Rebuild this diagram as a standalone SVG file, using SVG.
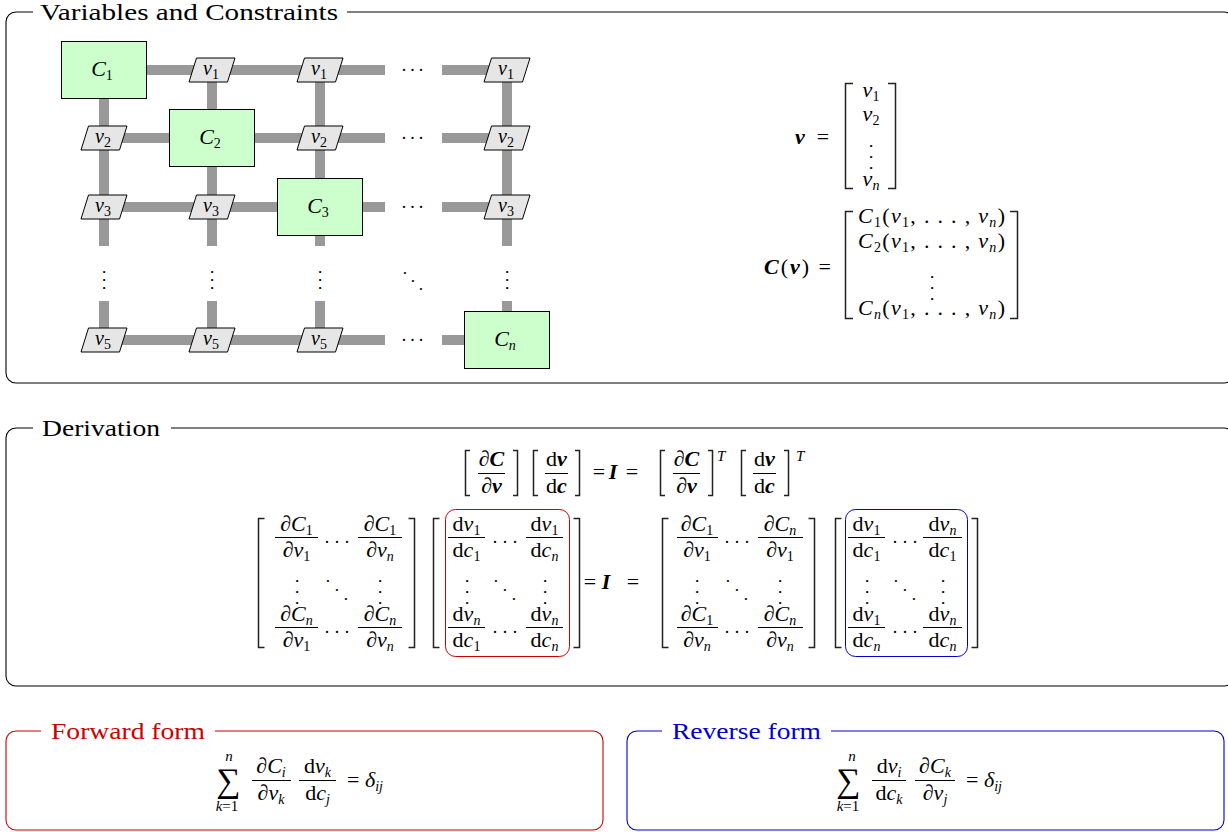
<svg xmlns="http://www.w3.org/2000/svg" width="1228" height="832" viewBox="0 0 1228 832" font-family="'Liberation Serif', 'DejaVu Serif', serif">
<style>
text { fill: #000; }
.t { font-size: 24px; }
.m { font-size: 22px; font-style: italic; }
.g { font-size: 20px; font-style: italic; }
.up { font-style: normal; }
.bf { font-weight: bold; font-style: italic; }
.sub { font-size: 14px; }
.sup { font-size: 15px; font-style: italic; }
.lim { font-size: 15px; font-style: italic; text-anchor: middle; }
.d { font-size: 18px; font-style: normal; }
.p8 { letter-spacing: 4px; }
.p8v { letter-spacing: 3.5px; }
.p10 { letter-spacing: 5.5px; }
.p11 { letter-spacing: 6.5px; }
.p11d { letter-spacing: 6.8px; }
.p13d { letter-spacing: 8.2px; }
.mid { text-anchor: middle; }
.sum { font-size: 34px; font-style: normal; text-anchor: middle; }
.frame { fill: none; stroke: #000; stroke-width: 1.1; }
.bar { stroke: #999; stroke-width: 10; fill: none; }
.cbox { fill: #ccffcc; stroke: #000; stroke-width: 1; }
.vbox { fill: #e6e6e6; stroke: #000; stroke-width: 1; }
.br { fill: none; stroke: #222; stroke-width: 1.5; }
.fb { fill: none; stroke: #000; stroke-width: 1; }
.red { stroke: #cc0000; }
.blue { stroke: #0000cc; }
.redt { fill: #cc0000; }
.bluet { fill: #0000cc; }
</style>
<defs>
<path id="pg" class="vbox" d="M-15.5 -12 H23 L15.5 12 H-23 Z"/>
</defs>

<!-- Frames -->
<g id="frame-vars">
<path class="frame" d="M33 12 H16 A10 10 0 0 0 6 22 V373 A10 10 0 0 0 16 383 H1224 A10 10 0 0 0 1234 373 V22 A10 10 0 0 0 1224 12 H347"/>
<text class="t" x="40" y="19.5" textLength="298" lengthAdjust="spacingAndGlyphs">Variables and Constraints</text>
</g>
<g id="frame-deriv">
<path class="frame" d="M33 428 H16 A10 10 0 0 0 6 438 V676 A10 10 0 0 0 16 686 H1224 A10 10 0 0 0 1234 676 V438 A10 10 0 0 0 1224 428 H171"/>
<text class="t" x="42" y="435.5" textLength="118" lengthAdjust="spacingAndGlyphs">Derivation</text>
</g>
<g id="frame-forward">
<path class="frame red" d="M41 731 H16 A10 10 0 0 0 6 741 V820 A10 10 0 0 0 16 830 H593 A10 10 0 0 0 603 820 V741 A10 10 0 0 0 593 731 H215"/>
<text class="t redt" x="51" y="738.5" textLength="154" lengthAdjust="spacingAndGlyphs">Forward form</text>
</g>
<g id="frame-reverse">
<path class="frame blue" d="M662 731 H637 A10 10 0 0 0 627 741 V820 A10 10 0 0 0 637 830 H1214 A10 10 0 0 0 1224 820 V741 A10 10 0 0 0 1214 731 H831"/>
<text class="t bluet" x="672" y="738.5" textLength="149" lengthAdjust="spacingAndGlyphs">Reverse form</text>
</g>

<!-- Connectors -->
<g id="connectors">
<path class="bar" d="M147 70 H385 M442 70 H507 M104 138 H385 M442 138 H507 M104 207 H385 M442 207 H507 M104 340 H385 M442 340 H465 M104 98 V246 M104 301 V340 M212 70 V246 M212 301 V340 M320 70 V246 M320 301 V340 M507 70 V246 M507 301 V312"/>
</g>

<!-- Constraint nodes -->
<g id="C1"><rect class="cbox" x="61.5" y="41.5" width="85" height="57"/><text class="m mid" x="102" y="76">C<tspan class="sub up" dy="4">1</tspan></text></g>
<g id="C2"><rect class="cbox" x="169.5" y="109.5" width="85" height="57"/><text class="m mid" x="210" y="144">C<tspan class="sub up" dy="4">2</tspan></text></g>
<g id="C3"><rect class="cbox" x="277.5" y="178.5" width="85" height="57"/><text class="m mid" x="318" y="213">C<tspan class="sub up" dy="4">3</tspan></text></g>
<g id="Cn"><rect class="cbox" x="464.5" y="311.5" width="85" height="57"/><text class="m mid" x="505" y="346">C<tspan class="sub" dy="4">n</tspan></text></g>

<!-- Variable nodes -->
<g id="v1-col2"><use href="#pg" x="212" y="70"/><text class="g mid" x="211" y="75">v<tspan class="sub up" dy="4">1</tspan></text></g>
<g id="v1-col3"><use href="#pg" x="320" y="70"/><text class="g mid" x="319" y="75">v<tspan class="sub up" dy="4">1</tspan></text></g>
<g id="v1-col5"><use href="#pg" x="507" y="70"/><text class="g mid" x="506" y="75">v<tspan class="sub up" dy="4">1</tspan></text></g>
<g id="v2-col1"><use href="#pg" x="104" y="138"/><text class="g mid" x="103" y="143">v<tspan class="sub up" dy="4">2</tspan></text></g>
<g id="v2-col3"><use href="#pg" x="320" y="138"/><text class="g mid" x="319" y="143">v<tspan class="sub up" dy="4">2</tspan></text></g>
<g id="v2-col5"><use href="#pg" x="507" y="138"/><text class="g mid" x="506" y="143">v<tspan class="sub up" dy="4">2</tspan></text></g>
<g id="v3-col1"><use href="#pg" x="104" y="207"/><text class="g mid" x="103" y="212">v<tspan class="sub up" dy="4">3</tspan></text></g>
<g id="v3-col2"><use href="#pg" x="212" y="207"/><text class="g mid" x="211" y="212">v<tspan class="sub up" dy="4">3</tspan></text></g>
<g id="v3-col5"><use href="#pg" x="507" y="207"/><text class="g mid" x="506" y="212">v<tspan class="sub up" dy="4">3</tspan></text></g>
<g id="v5-col1"><use href="#pg" x="104" y="340"/><text class="g mid" x="103" y="345">v<tspan class="sub up" dy="4">5</tspan></text></g>
<g id="v5-col2"><use href="#pg" x="212" y="340"/><text class="g mid" x="211" y="345">v<tspan class="sub up" dy="4">5</tspan></text></g>
<g id="v5-col3"><use href="#pg" x="320" y="340"/><text class="g mid" x="319" y="345">v<tspan class="sub up" dy="4">5</tspan></text></g>

<!-- Grid dots -->
<g id="grid-dots">
<text class="d p8" x="401.75" y="70.9">...</text>
<text class="d p8" x="401.75" y="138.9">...</text>
<text class="d p8" x="401.75" y="207.9">...</text>
<text class="d p8" x="401.75" y="340.9">...</text>
<text class="d p8v" transform="translate(103.1 269.75) rotate(90)">...</text>
<text class="d p8v" transform="translate(211.1 269.75) rotate(90)">...</text>
<text class="d p8v" transform="translate(319.1 269.75) rotate(90)">...</text>
<text class="d p8v" transform="translate(506.1 269.75) rotate(90)">...</text>
<text class="d p11d" transform="translate(402.8 272) rotate(45)">...</text>
</g>

<!-- Vector v -->
<g id="vec-v">
<text class="m mid" x="800" y="144"><tspan class="bf">v</tspan></text>
<text class="m mid up" x="823" y="144">=</text>
<path class="br" d="M853 83.5 H845.5 V188.5 H853 M888 83.5 H895.5 V188.5 H888"/>
<text class="m mid" x="871" y="97">v<tspan class="sub up" dy="4">1</tspan></text>
<text class="m mid" x="871" y="121">v<tspan class="sub up" dy="4">2</tspan></text>
<text class="d p11" transform="translate(870.1 143.75) rotate(90)">...</text>
<text class="m mid" x="871" y="186">v<tspan class="sub" dy="4">n</tspan></text>
</g>

<!-- Vector C(v) -->
<g id="vec-C">
<text class="m" x="764" y="274" textLength="67"><tspan class="bf">C</tspan><tspan class="up">(</tspan><tspan class="bf">v</tspan><tspan class="up">) =</tspan></text>
<path class="br" d="M853 211.5 H845.5 V318.5 H853 M1010 211.5 H1017.5 V318.5 H1010"/>
<text class="m" x="858" y="223" textLength="147">C<tspan class="sub up" dy="4">1</tspan><tspan class="up" dy="-4">(</tspan>v<tspan class="sub up" dy="4">1</tspan><tspan class="up" dy="-4">, . . . , </tspan>v<tspan class="sub" dy="4">n</tspan><tspan class="up" dy="-4">)</tspan></text>
<text class="m" x="858" y="248" textLength="147">C<tspan class="sub up" dy="4">2</tspan><tspan class="up" dy="-4">(</tspan>v<tspan class="sub up" dy="4">1</tspan><tspan class="up" dy="-4">, . . . , </tspan>v<tspan class="sub" dy="4">n</tspan><tspan class="up" dy="-4">)</tspan></text>
<text class="d p11" transform="translate(931.1 274.75) rotate(90)">...</text>
<text class="m" x="858" y="315" textLength="147">C<tspan class="sub" dy="4">n</tspan><tspan class="up" dy="-4">(</tspan>v<tspan class="sub up" dy="4">1</tspan><tspan class="up" dy="-4">, . . . , </tspan>v<tspan class="sub" dy="4">n</tspan><tspan class="up" dy="-4">)</tspan></text>
</g>

<!-- Derivation top equation -->
<g id="eq-top">
<path class="br" d="M470 450.5 H465.5 V495.5 H470 M513 450.5 H517.5 V495.5 H513 M538 450.5 H533.5 V495.5 H538 M575 450.5 H579.5 V495.5 H575 M665 450.5 H660.5 V495.5 H665 M708 450.5 H712.5 V495.5 H708 M746 450.5 H741.5 V495.5 H746 M784 450.5 H788.5 V495.5 H784"/>
<path class="fb" d="M478 473.5 H505 M545 473.5 H568 M673 473.5 H700 M753 473.5 H776"/>
<text class="m mid" x="491.5" y="466"><tspan class="up">∂</tspan><tspan class="bf">C</tspan></text>
<text class="m mid" x="491.5" y="493"><tspan class="up">∂</tspan><tspan class="bf">v</tspan></text>
<text class="m mid" x="556.5" y="466"><tspan class="up">d</tspan><tspan class="bf">v</tspan></text>
<text class="m mid" x="556.5" y="493"><tspan class="up">d</tspan><tspan class="bf">c</tspan></text>
<text class="m mid up" x="599" y="479">=</text>
<text class="m mid" x="613" y="479"><tspan class="bf">I</tspan></text>
<text class="m mid up" x="632" y="479">=</text>
<text class="m mid" x="686.5" y="466"><tspan class="up">∂</tspan><tspan class="bf">C</tspan></text>
<text class="m mid" x="686.5" y="493"><tspan class="up">∂</tspan><tspan class="bf">v</tspan></text>
<text class="sup" x="717" y="461">T</text>
<text class="m mid" x="764.5" y="466"><tspan class="up">d</tspan><tspan class="bf">v</tspan></text>
<text class="m mid" x="764.5" y="493"><tspan class="up">d</tspan><tspan class="bf">c</tspan></text>
<text class="sup" x="796" y="461">T</text>
</g>

<!-- Matrix 1: dC/dv -->
<g id="mat-dCdv">
<path class="br" d="M264.5 518.5 H258.5 V647.5 H264.5 M408.5 518.5 H414.5 V647.5 H408.5"/>
<path class="fb" d="M275 537.5 H318 M358 537.5 H402 M275 627.5 H318 M358 627.5 H402"/>
<text class="m mid" x="296.5" y="531"><tspan class="up">∂</tspan>C<tspan class="sub up" dy="4">1</tspan></text>
<text class="m mid" x="296.5" y="557"><tspan class="up">∂</tspan>v<tspan class="sub up" dy="4">1</tspan></text>
<text class="m mid" x="380" y="531"><tspan class="up">∂</tspan>C<tspan class="sub up" dy="4">1</tspan></text>
<text class="m mid" x="380" y="557"><tspan class="up">∂</tspan>v<tspan class="sub" dy="4">n</tspan></text>
<text class="m mid" x="296.5" y="621"><tspan class="up">∂</tspan>C<tspan class="sub" dy="4">n</tspan></text>
<text class="m mid" x="296.5" y="647"><tspan class="up">∂</tspan>v<tspan class="sub up" dy="4">1</tspan></text>
<text class="m mid" x="380" y="621"><tspan class="up">∂</tspan>C<tspan class="sub" dy="4">n</tspan></text>
<text class="m mid" x="380" y="647"><tspan class="up">∂</tspan>v<tspan class="sub" dy="4">n</tspan></text>
<text class="d p10" x="324.75" y="542.9">...</text>
<text class="d p10" x="324.75" y="632.9">...</text>
<text class="d p13d" transform="translate(325.8 580) rotate(45)">...</text>
<text class="d p11" transform="translate(295.6 578.75) rotate(90)">...</text>
<text class="d p11" transform="translate(379.1 578.75) rotate(90)">...</text>
</g>

<!-- Matrix 2: dv/dc (red) -->
<g id="mat-dvdc">
<path class="br" d="M439.5 518.5 H433.5 V647.5 H439.5 M573.5 518.5 H579.5 V647.5 H573.5"/>
<rect class="fb red" x="445.5" y="509.5" width="124" height="147" rx="10"/>
<path class="fb" d="M448 537.5 H485 M526 537.5 H563 M448 627.5 H485 M526 627.5 H563"/>
<text class="m mid" x="466.5" y="531"><tspan class="up">d</tspan>v<tspan class="sub up" dy="4">1</tspan></text>
<text class="m mid" x="466.5" y="557"><tspan class="up">d</tspan>c<tspan class="sub up" dy="4">1</tspan></text>
<text class="m mid" x="544.5" y="531"><tspan class="up">d</tspan>v<tspan class="sub up" dy="4">1</tspan></text>
<text class="m mid" x="544.5" y="557"><tspan class="up">d</tspan>c<tspan class="sub" dy="4">n</tspan></text>
<text class="m mid" x="466.5" y="621"><tspan class="up">d</tspan>v<tspan class="sub" dy="4">n</tspan></text>
<text class="m mid" x="466.5" y="647"><tspan class="up">d</tspan>c<tspan class="sub up" dy="4">1</tspan></text>
<text class="m mid" x="544.5" y="621"><tspan class="up">d</tspan>v<tspan class="sub" dy="4">n</tspan></text>
<text class="m mid" x="544.5" y="647"><tspan class="up">d</tspan>c<tspan class="sub" dy="4">n</tspan></text>
<text class="d p10" x="492.75" y="542.9">...</text>
<text class="d p10" x="492.75" y="632.9">...</text>
<text class="d p13d" transform="translate(493.8 580) rotate(45)">...</text>
<text class="d p11" transform="translate(465.6 578.75) rotate(90)">...</text>
<text class="d p11" transform="translate(543.6 578.75) rotate(90)">...</text>
</g>

<g id="eq-mid">
<text class="m mid up" x="590" y="589">=</text>
<text class="m mid" x="606" y="589"><tspan class="bf">I</tspan></text>
<text class="m mid up" x="633" y="589">=</text>
</g>

<!-- Matrix 3: (dC/dv)^T -->
<g id="mat-dCdvT">
<path class="br" d="M668.5 518.5 H662.5 V647.5 H668.5 M808.5 518.5 H814.5 V647.5 H808.5"/>
<path class="fb" d="M677 537.5 H718 M758 537.5 H803 M677 627.5 H718 M758 627.5 H803"/>
<text class="m mid" x="697" y="531"><tspan class="up">∂</tspan>C<tspan class="sub up" dy="4">1</tspan></text>
<text class="m mid" x="697" y="557"><tspan class="up">∂</tspan>v<tspan class="sub up" dy="4">1</tspan></text>
<text class="m mid" x="780" y="531"><tspan class="up">∂</tspan>C<tspan class="sub" dy="4">n</tspan></text>
<text class="m mid" x="780" y="557"><tspan class="up">∂</tspan>v<tspan class="sub up" dy="4">1</tspan></text>
<text class="m mid" x="697" y="621"><tspan class="up">∂</tspan>C<tspan class="sub up" dy="4">1</tspan></text>
<text class="m mid" x="697" y="647"><tspan class="up">∂</tspan>v<tspan class="sub" dy="4">n</tspan></text>
<text class="m mid" x="780" y="621"><tspan class="up">∂</tspan>C<tspan class="sub" dy="4">n</tspan></text>
<text class="m mid" x="780" y="647"><tspan class="up">∂</tspan>v<tspan class="sub" dy="4">n</tspan></text>
<text class="d p10" x="724.75" y="542.9">...</text>
<text class="d p10" x="724.75" y="632.9">...</text>
<text class="d p13d" transform="translate(725.8 580) rotate(45)">...</text>
<text class="d p11" transform="translate(696.1 578.75) rotate(90)">...</text>
<text class="d p11" transform="translate(779.1 578.75) rotate(90)">...</text>
</g>

<!-- Matrix 4: (dv/dc)^T (blue) -->
<g id="mat-dvdcT">
<path class="br" d="M841.5 518.5 H835.5 V647.5 H841.5 M971.5 518.5 H977.5 V647.5 H971.5"/>
<rect class="fb blue" x="845.5" y="509.5" width="122" height="147" rx="10"/>
<path class="fb" d="M848 537.5 H885 M923 537.5 H962 M848 627.5 H885 M923 627.5 H962"/>
<text class="m mid" x="866.5" y="531"><tspan class="up">d</tspan>v<tspan class="sub up" dy="4">1</tspan></text>
<text class="m mid" x="866.5" y="557"><tspan class="up">d</tspan>c<tspan class="sub up" dy="4">1</tspan></text>
<text class="m mid" x="942.5" y="531"><tspan class="up">d</tspan>v<tspan class="sub" dy="4">n</tspan></text>
<text class="m mid" x="942.5" y="557"><tspan class="up">d</tspan>c<tspan class="sub up" dy="4">1</tspan></text>
<text class="m mid" x="866.5" y="621"><tspan class="up">d</tspan>v<tspan class="sub up" dy="4">1</tspan></text>
<text class="m mid" x="866.5" y="647"><tspan class="up">d</tspan>c<tspan class="sub" dy="4">n</tspan></text>
<text class="m mid" x="942.5" y="621"><tspan class="up">d</tspan>v<tspan class="sub" dy="4">n</tspan></text>
<text class="m mid" x="942.5" y="647"><tspan class="up">d</tspan>c<tspan class="sub" dy="4">n</tspan></text>
<text class="d p10" x="892.75" y="542.9">...</text>
<text class="d p10" x="892.75" y="632.9">...</text>
<text class="d p13d" transform="translate(893.8 580) rotate(45)">...</text>
<text class="d p11" transform="translate(865.6 578.75) rotate(90)">...</text>
<text class="d p11" transform="translate(941.6 578.75) rotate(90)">...</text>
</g>

<!-- Forward form formula -->
<g id="forward-formula">
<text class="sum" x="228" y="792">∑</text>
<text class="lim" x="229" y="761">n</text>
<text class="lim" x="227" y="811">k<tspan class="up">=1</tspan></text>
<path class="fb" d="M252 780.5 H291 M299 780.5 H336"/>
<text class="m mid" x="271" y="773"><tspan class="up">∂</tspan>C<tspan class="sub" dy="4">i</tspan></text>
<text class="m mid" x="271" y="800"><tspan class="up">∂</tspan>v<tspan class="sub" dy="4">k</tspan></text>
<text class="m mid" x="317.5" y="773"><tspan class="up">d</tspan>v<tspan class="sub" dy="4">k</tspan></text>
<text class="m mid" x="317.5" y="800"><tspan class="up">d</tspan>c<tspan class="sub" dy="4">j</tspan></text>
<text class="m" x="347" y="787"><tspan class="up">= </tspan>δ<tspan class="sub" dy="4">ij</tspan></text>
</g>

<!-- Reverse form formula -->
<g id="reverse-formula">
<text class="sum" x="848" y="792">∑</text>
<text class="lim" x="852" y="761">n</text>
<text class="lim" x="848" y="811">k<tspan class="up">=1</tspan></text>
<path class="fb" d="M872 780.5 H906 M915 780.5 H955"/>
<text class="m mid" x="889" y="773"><tspan class="up">d</tspan>v<tspan class="sub" dy="4">i</tspan></text>
<text class="m mid" x="889" y="800"><tspan class="up">d</tspan>c<tspan class="sub" dy="4">k</tspan></text>
<text class="m mid" x="935" y="773"><tspan class="up">∂</tspan>C<tspan class="sub" dy="4">k</tspan></text>
<text class="m mid" x="935" y="800"><tspan class="up">∂</tspan>v<tspan class="sub" dy="4">j</tspan></text>
<text class="m" x="966" y="787"><tspan class="up">= </tspan>δ<tspan class="sub" dy="4">ij</tspan></text>
</g>
</svg>
